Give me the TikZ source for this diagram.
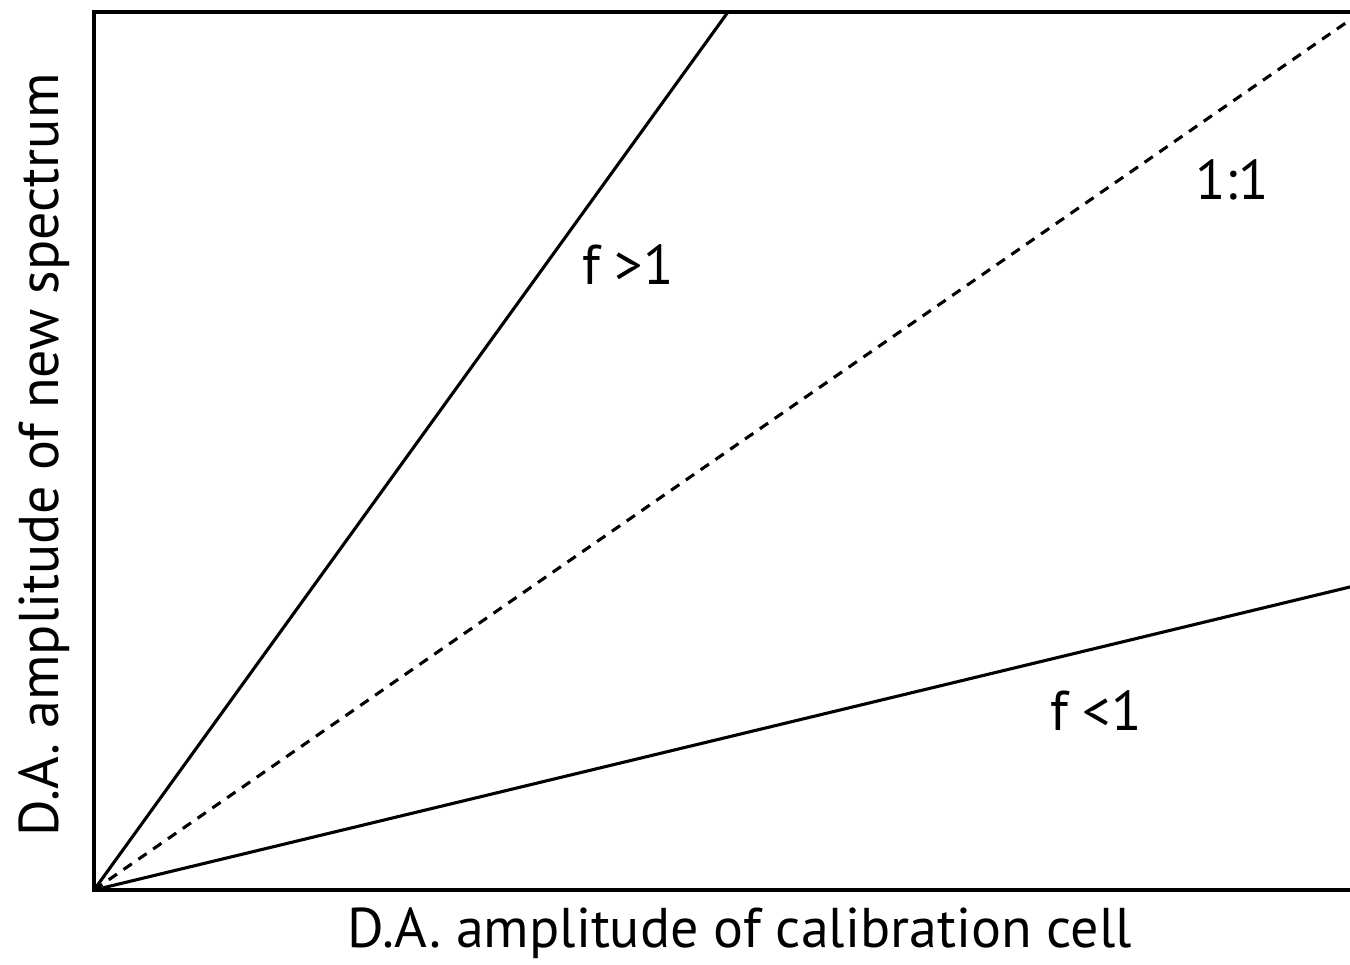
\documentclass[tikz,border=0pt]{standalone}
\usepackage{fontspec}
\setmainfont{PT Sans}
\begin{document}
\begin{tikzpicture}[x=1pt,y=-1pt,
  frame/.style={line width=3.8pt,line join=miter},
  ray/.style={line width=3.1pt},
  dashray/.style={line width=3.1pt,dash pattern=on 10pt off 8pt},
  lbl/.style={font=\fontsize{56}{62}\selectfont,inner sep=0pt}]
\useasboundingbox (0,0) rectangle (1350,965);
\coordinate (o) at (94,890);
\coordinate (tl) at (94,12);
\coordinate (tr) at (1356,12);
\coordinate (br) at (1356,890);
\coordinate (e1) at (728,12);
\coordinate (e2) at (1350,20);
\coordinate (e3) at (1352,586.5);
\draw[frame] (tr) -- (tl) -- (o) -- (br);
\draw[ray] (o) -- (e1);
\draw[dashray] (o) -- (e2);
\draw[ray] (o) -- (e3);
\node[lbl] (fgt) at (628,265) {f >1};
\node[lbl] (one) at (1232,180) {1:1};
\node[lbl] (flt) at (1096,711) {f <1};
\node[lbl] (xl) at (740,933) {D.A. amplitude of calibration cell};
\node[lbl,rotate=90] (yl) at (44,455) {D.A. amplitude of new spectrum};
\end{tikzpicture}
\end{document}
